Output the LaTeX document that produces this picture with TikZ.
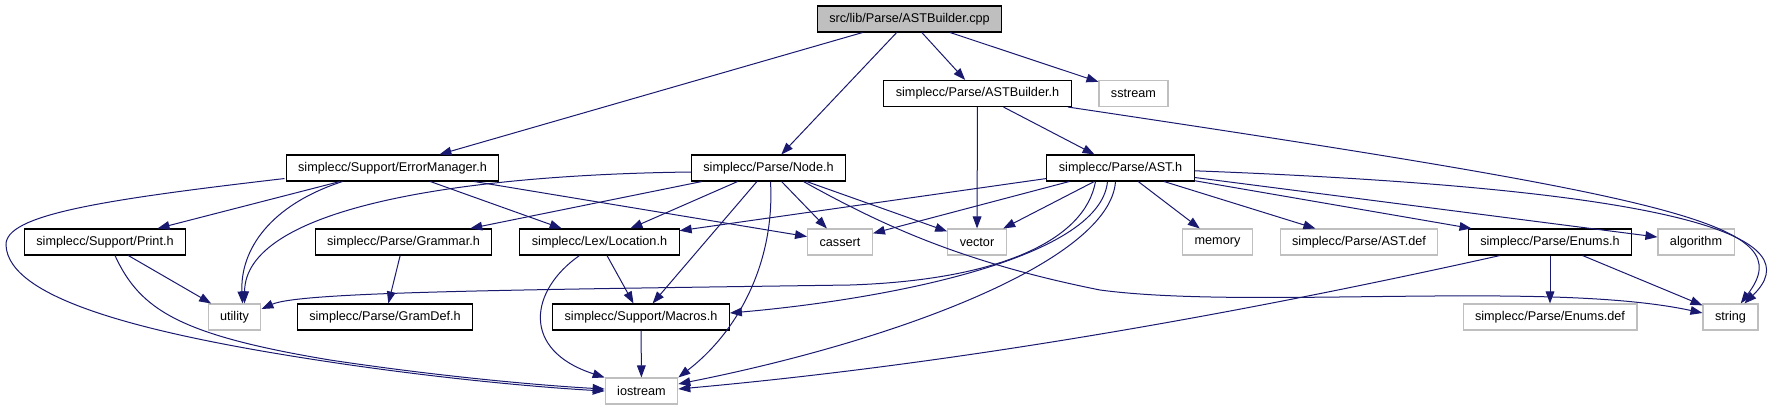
\documentclass[tikz,border=0pt]{standalone}
\usepackage{fontspec}
\setmainfont{Liberation Sans}
\usepackage{tikz}
\usetikzlibrary{arrows.meta,calc}

\definecolor{edgeblue}{HTML}{191970}
\definecolor{sysgrey}{HTML}{BFBFBF}

\begin{document}
\begin{tikzpicture}[x=0.75pt,y=-0.75pt,
                    every node/.style={font=\fontsize{9.5}{11}\selectfont},
                    hdr/.style={draw=black,fill=white,line width=0.8pt,
                                minimum height=19.5pt,inner xsep=9pt,inner ysep=0pt},
                    sys/.style={hdr,draw=sysgrey},
                    dep/.style={draw=edgeblue,line width=0.75pt,
                                -{Triangle[length=9pt,width=6.5pt]},edgeblue}]
  \useasboundingbox (0,0) rectangle (1779,411);

  \node[hdr,fill=sysgrey] (root) at (909.5,19) {src/lib/Parse/ASTBuilder.cpp};

  \node[hdr] (astb)    at (977.5,93.5)  {simplecc/Parse/ASTBuilder.h};
  \node[sys] (sstream) at (1133.5,93.5) {sstream};

  \node[hdr] (err)   at (392.5,168)  {simplecc/Support/ErrorManager.h};
  \node[hdr] (nodeh) at (768.5,168)  {simplecc/Parse/Node.h};
  \node[hdr] (ast)   at (1120.5,168) {simplecc/Parse/AST.h};

  \node[hdr] (print)     at (105,242)    {simplecc/Support/Print.h};
  \node[hdr] (grammar)   at (403.5,242)  {simplecc/Parse/Grammar.h};
  \node[hdr] (loc)       at (599.5,242)  {simplecc/Lex/Location.h};
  \node[sys] (cassert)   at (840,242)    {cassert};
  \node[sys] (vector)    at (977,242)    {vector};
  \node[sys] (memory)    at (1217.5,242) {memory};
  \node[sys] (astdef)    at (1359,242)   {simplecc/Parse/AST.def};
  \node[hdr] (enums)     at (1550,242)   {simplecc/Parse/Enums.h};
  \node[sys] (algorithm) at (1696,242)   {algorithm};

  \node[sys] (utility)  at (234.5,317)  {utility};
  \node[hdr] (gramdef)  at (385,317)    {simplecc/Parse/GramDef.h};
  \node[hdr] (macros)   at (641,317)    {simplecc/Support/Macros.h};
  \node[sys] (enumsdef) at (1550,317)   {simplecc/Parse/Enums.def};
  \node[sys] (string)   at (1730.5,317) {string};

  \node[sys] (iostream) at (641.5,391) {iostream};

  % ASTBuilder.cpp
  \draw[dep] (root) -- (err);
  \draw[dep] (root) -- (nodeh);
  \draw[dep] (root) -- (astb);
  \draw[dep] (root) -- (sstream);

  % ASTBuilder.h
  \draw[dep] (astb) -- (ast);
  \draw[dep] (astb) -- (vector);
  \draw[dep] (astb) .. controls (1690,200) and (1800,225) .. (string);

  % ErrorManager.h
  \draw[dep] ($(err.south)+(-108,-3)$) .. controls (100,200) and (5,215) .. (6,245)
             .. controls (8,300) and (150,335) .. (330,362)
             .. controls (450,380) and (550,388) .. (iostream.west);
  \draw[dep] (err) -- (print);
  \draw[dep] ($(err.south)+(-50,0)$) .. controls (270,205) and (240,250) .. ($(utility.north)+(8,0)$);
  \draw[dep] (err) -- (loc);
  \draw[dep] (err) -- (cassert);

  % Node.h
  \draw[dep] ($(nodeh.west)+(0,4)$) .. controls (450,175) and (245,210) .. ($(utility.north)+(10,0)$);
  \draw[dep] (nodeh) -- (grammar);
  \draw[dep] (nodeh) -- (loc);
  \draw[dep] (nodeh) -- (macros);
  \draw[dep] ($(nodeh.south)+(2,0)$) .. controls (775,260) and (740,330) .. (iostream.north east);
  \draw[dep] (nodeh) -- (cassert);
  \draw[dep] (nodeh) -- (vector);
  \draw[dep] ($(nodeh.south)+(35,0)$) .. controls (880,224) and (960,262) .. (1100,290)
             .. controls (1250,310) and (1550,280) .. ($(string.west)+(0,-4)$);

  % AST.h
  \draw[dep] (ast) -- (loc);
  \draw[dep] (ast) -- (cassert);
  \draw[dep] (ast) -- (vector);
  \draw[dep] ($(ast.south)+(-25,0)$) .. controls (1085,240) and (1000,280) .. (850,285)
             .. controls (500,290) and (300,292) .. ($(utility.east)+(0,-8)$);
  \draw[dep] ($(ast.south)+(-13,0)$) .. controls (1100,260) and (880,300) .. ($(macros.east)+(0,-4)$);
  \draw[dep] ($(ast.south)+(-5,0)$) .. controls (1110,260) and (900,340) .. ($(iostream.east)+(0,-7)$);
  \draw[dep] (ast) -- (memory);
  \draw[dep] (ast) -- (astdef);
  \draw[dep] (ast) -- (enums);
  \draw[dep] (ast) -- (algorithm);
  \draw[dep] (ast) .. controls (1700,190) and (1810,240) .. (string);

  % Enums.h
  \draw[dep] ($(enums.south)+(-50,0)$) .. controls (1300,300) and (1000,360) .. ($(iostream.east)+(0,-2)$);
  \draw[dep] (enums) -- (enumsdef);
  \draw[dep] (enums) -- (string);

  % Location.h, Macros.h, Print.h, Grammar.h
  \draw[dep] ($(loc.south)+(-20,0)$) .. controls (530,290) and (520,350) .. (iostream.north west);
  \draw[dep] (loc) -- (macros);
  \draw[dep] (macros) -- (iostream);
  \draw[dep] (print) -- (utility);
  \draw[dep] ($(print.south)+(10,0)$) .. controls (140,310) and (180,335) .. (330,360)
             .. controls (450,378) and (550,386) .. ($(iostream.west)+(0,-2)$);
  \draw[dep] (grammar) -- (gramdef);
\end{tikzpicture}
\end{document}
